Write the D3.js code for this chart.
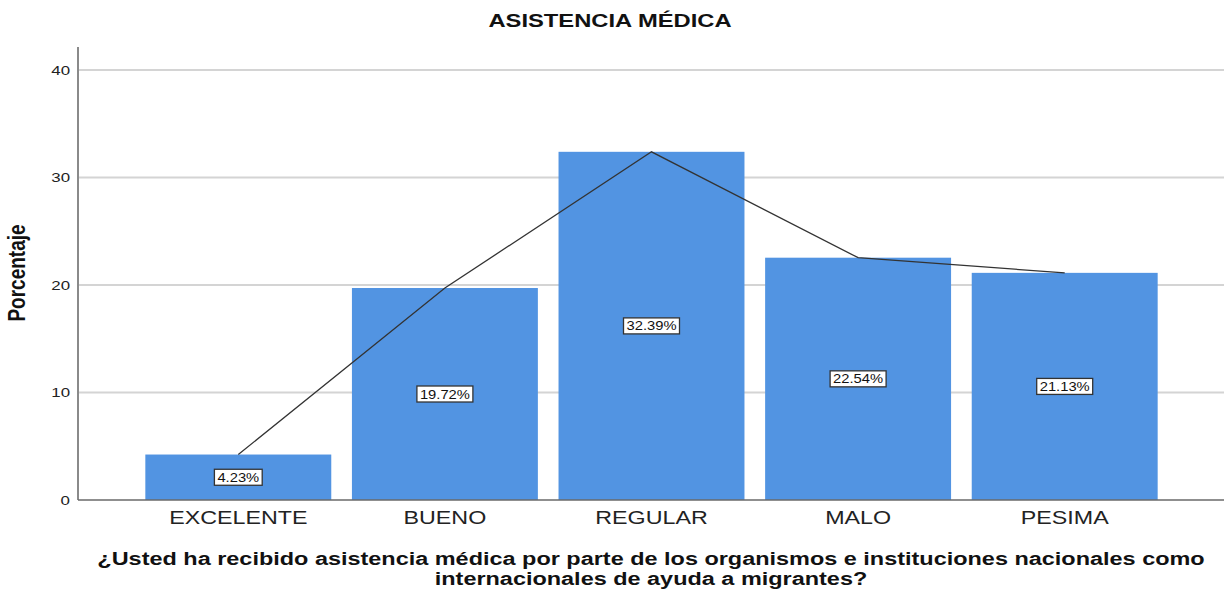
<!DOCTYPE html>
<html>
<head>
<meta charset="utf-8">
<script src="https://cdn.jsdelivr.net/npm/d3@7"></script>
<style>
  body { margin: 0; background: #fff; }
  text { font-family: "Liberation Sans", Arial, sans-serif; }
</style>
</head>
<body>
<svg id="chart" width="1229" height="597"></svg>
<script>
// data
var categories = ["EXCELENTE", "BUENO", "REGULAR", "MALO", "PESIMA"];
var percents = [4.23, 19.72, 32.39, 22.54, 21.13];
var yTicks = [0, 10, 20, 30, 40];

// the reference is drawn wider than tall, text looks stretched sideways
var SX = 1.25;

var svg = d3.select("#chart");

var plot = { left: 78, right: 1224, top: 47, bottom: 500 };

var x = d3.scaleBand()
    .domain(categories)
    .range([135, 1168])
    .paddingInner(0.1)
    .paddingOuter(0.05);

var y = d3.scaleLinear()
    .domain([0, 40])
    .range([500, 70]);

// gridlines
svg.append("g")
    .selectAll("line")
    .data(yTicks.slice(1))
    .enter().append("line")
        .attr("x1", plot.left)
        .attr("x2", plot.right)
        .attr("y1", function (d) { return y(d); })
        .attr("y2", function (d) { return y(d); })
        .attr("stroke", "#d4d4d4")
        .attr("stroke-width", 2);

// bars
svg.append("g")
    .selectAll("rect")
    .data(percents)
    .enter().append("rect")
        .attr("x", function (d, i) { return x(categories[i]); })
        .attr("y", function (d) { return y(d); })
        .attr("width", x.bandwidth())
        .attr("height", function (d) { return y(0) - y(d); })
        .attr("fill", "#5294e2");

// y axis
var yAxis = d3.axisLeft(y).tickValues(yTicks).tickSize(0);
var gy = svg.append("g")
    .attr("transform", "translate(" + plot.left + ",0)")
    .call(yAxis);
gy.select(".domain").remove();
gy.selectAll("text")
    .attr("x", -8 / SX)
    .attr("transform", "scale(" + SX + ",1)")
    .attr("font-size", 13.5)
    .attr("fill", "#222");
svg.append("line")
    .attr("x1", plot.left).attr("x2", plot.left)
    .attr("y1", plot.top).attr("y2", plot.bottom)
    .attr("stroke", "#8a8a8a")
    .attr("stroke-width", 2);

// x axis
var xAxis = d3.axisBottom(x).tickSize(0).tickPadding(12);
var gx = svg.append("g")
    .attr("transform", "translate(0," + plot.bottom + ")")
    .call(xAxis);
gx.select(".domain").remove();
gx.selectAll("text")
    .attr("transform", "scale(1.33,1)")
    .attr("font-size", 17.5)
    .attr("fill", "#222");
svg.append("line")
    .attr("x1", plot.left).attr("x2", plot.right)
    .attr("y1", plot.bottom).attr("y2", plot.bottom)
    .attr("stroke", "#6a6a6a")
    .attr("stroke-width", 1.5);

// connecting line through bar tops
var line = d3.line()
    .x(function (d, i) { return x(categories[i]) + x.bandwidth() / 2; })
    .y(function (d) { return y(d); });
svg.append("path")
    .datum(percents)
    .attr("d", line)
    .attr("fill", "none")
    .attr("stroke", "#333")
    .attr("stroke-width", 1.3);

// value labels
var labelSX = 1.18;
var labels = svg.append("g")
    .selectAll("g")
    .data(percents)
    .enter().append("g")
        .attr("transform", function (d, i) {
            return "translate(" + (x(categories[i]) + x.bandwidth() / 2) + "," + y(d / 2) + ")";
        });
labels.append("text")
    .attr("text-anchor", "middle")
    .attr("dy", "0.36em")
    .attr("transform", "scale(" + labelSX + ",1)")
    .attr("font-size", 12.5)
    .attr("fill", "#111")
    .text(function (d) { return d.toFixed(2) + "%"; });
labels.each(function () {
    var g = d3.select(this);
    var b = g.select("text").node().getBBox();
    var w = b.width * labelSX;
    g.insert("rect", "text")
        .attr("x", -w / 2 - 3)
        .attr("y", -8)
        .attr("width", w + 6)
        .attr("height", 16)
        .attr("fill", "#fff")
        .attr("stroke", "#333")
        .attr("stroke-width", 1.3);
});

// titles
svg.append("text")
    .attr("transform", "translate(610,27) scale(" + SX + ",1)")
    .attr("text-anchor", "middle")
    .attr("font-size", 19)
    .attr("font-weight", "bold")
    .attr("fill", "#111")
    .text("ASISTENCIA MÉDICA");

svg.append("text")
    .attr("transform", "translate(25,273) scale(" + SX + ",1) rotate(-90)")
    .attr("text-anchor", "middle")
    .attr("font-size", 19)
    .attr("font-weight", "bold")
    .attr("fill", "#111")
    .text("Porcentaje");

var xTitle = ["¿Usted ha recibido asistencia médica por parte de los organismos e instituciones nacionales como",
              "internacionales de ayuda a migrantes?"];
svg.append("g")
    .selectAll("text")
    .data(xTitle)
    .enter().append("text")
        .attr("transform", function (d, i) {
            return "translate(" + ((plot.left + plot.right) / 2) + "," + (565 + i * 20) + ") scale(1.235,1)";
        })
        .attr("text-anchor", "middle")
        .attr("font-size", 19)
        .attr("font-weight", "bold")
        .attr("fill", "#111")
        .text(function (d) { return d; });
</script>
</body>
</html>
